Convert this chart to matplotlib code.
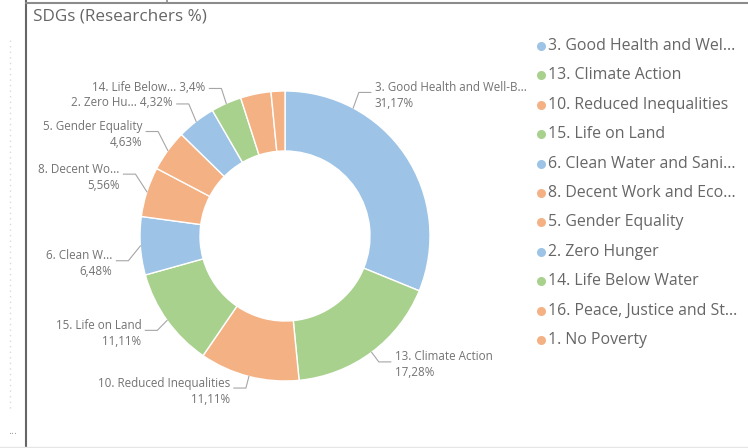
import numpy as np
import matplotlib.pyplot as plt

plt.rcParams['font.family'] = ['Open Sans', 'DejaVu Sans']

# data (share of researchers per SDG, %)
sdg_names = ["3. Good Health and Well-Being", "13. Climate Action", "10. Reduced Inequalities",
             "15. Life on Land", "6. Clean Water and Sanitation", "8. Decent Work and Economic Growth",
             "5. Gender Equality", "2. Zero Hunger", "14. Life Below Water",
             "16. Peace, Justice and Strong Institutions", "1. No Poverty"]
share = [31.17, 17.28, 11.11, 11.11, 6.48, 5.56, 4.63, 4.32, 3.40, 3.40, 1.54]
colours = ['#9DC3E6', '#A9D18E', '#F4B183', '#A9D18E', '#9DC3E6', '#F4B183',
           '#F4B183', '#9DC3E6', '#A9D18E', '#F4B183', '#F4B183']

# texts as shown (truncated) on the slices and in the legend
label_text = ["3. Good Health and Well-B...", "13. Climate Action", "10. Reduced Inequalities",
              "15. Life on Land", "6. Clean W...", "8. Decent Wo...", "5. Gender Equality",
              "2. Zero Hu...", "14. Life Below...", None, None]
legend_text = ["3. Good Health and Wel...", "13. Climate Action", "10. Reduced Inequalities",
               "15. Life on Land", "6. Clean Water and Sani...", "8. Decent Work and Eco...",
               "5. Gender Equality", "2. Zero Hunger", "14. Life Below Water",
               "16. Peace, Justice and St...", "1. No Poverty"]
one_line = [False, False, False, False, False, False, False, True, True, False, False]

# label layout tweaks (where along the slice, vertical push in px)
label_frac = [0.25, 0.5, 0.5, 0.5, 0.5, 0.5, 0.5, 0.5, 0.5, 0.5, 0.5]
label_dy = [5, 0, 0, -3, -14, 14, 12, 8, 4, 0, 0]


def fmt_pct(v):
    s = f"{v:.2f}".rstrip('0').rstrip('.')
    return s.replace('.', ',') + '%'


W, H = 748, 448
fig = plt.figure(figsize=(W / 100, H / 100), dpi=100)
ax = fig.add_axes([0, 0, 1, 1])

cx, cy, R = 285, 212, 145
wedges, _ = ax.pie(share, colors=colours, startangle=90, counterclock=False,
                   radius=R, center=(cx, cy),
                   wedgeprops=dict(width=60, edgecolor='white', linewidth=1))

ax.set_xlim(0, W)
ax.set_ylim(0, H)
ax.set_aspect('equal')
ax.axis('off')

# outside labels with leader lines
for i, w in enumerate(wedges):
    if label_text[i] is None:
        continue
    ang = np.deg2rad(w.theta2 - label_frac[i] * (w.theta2 - w.theta1))
    c, s = np.cos(ang), np.sin(ang)
    ax_, ay_ = cx + R * c, cy + R * s
    ex, ey = cx + (R + 12) * c, cy + (R + 12) * s + label_dy[i]
    side = 1 if c >= 0 else -1
    hx = ex + side * 12
    ax.plot([ax_, ex, hx], [ay_, ey, ey], color='#a6a6a6', lw=0.8)
    tx = hx + side * 4
    ha = 'left' if side > 0 else 'right'
    if one_line[i]:
        ax.text(tx, ey + 1, f"{label_text[i]} {fmt_pct(share[i])}", ha=ha, va='center',
                fontsize=8.4, color='#737373')
    else:
        ax.text(tx, ey + 5, label_text[i], ha=ha, va='center', fontsize=8.4, color='#737373')
        ax.text(tx, ey - 11, fmt_pct(share[i]), ha=ha, va='center', fontsize=8.4, color='#737373')

# legend on the right
for i, name in enumerate(legend_text):
    ly = H - 46 - i * 29.4
    ax.plot(541, ly, 'o', color=colours[i], markersize=6.5, markeredgewidth=0)
    ax.text(548, ly, name, ha='left', va='center', fontsize=11.4, color='#666666')

# title
ax.text(33, H - 16, "SDGs (Researchers %)", ha='left', va='center', fontsize=12.3, color='#666666')

# panel frame and side handle
ax.plot([26, 26], [0, H], color='#666666', lw=1.5, clip_on=False)
ax.plot([26, W], [H - 2.5, H - 2.5], color='#8c8c8c', lw=1.5, clip_on=False)
ax.plot([167, 167], [H - 2.5, H], color='#8c8c8c', lw=1.2, clip_on=False)
ax.plot([0, W], [1, 1], color='#e6e6e6', lw=1, clip_on=False)
ax.plot([10, 10], [H - 40, H - 412], color='#d9d9d9', lw=1, ls=(0, (1, 3)))
ax.text(13, H - 432, "...", ha='center', va='center', fontsize=8, color='#999999')

fig.savefig('out.png', dpi=100)
